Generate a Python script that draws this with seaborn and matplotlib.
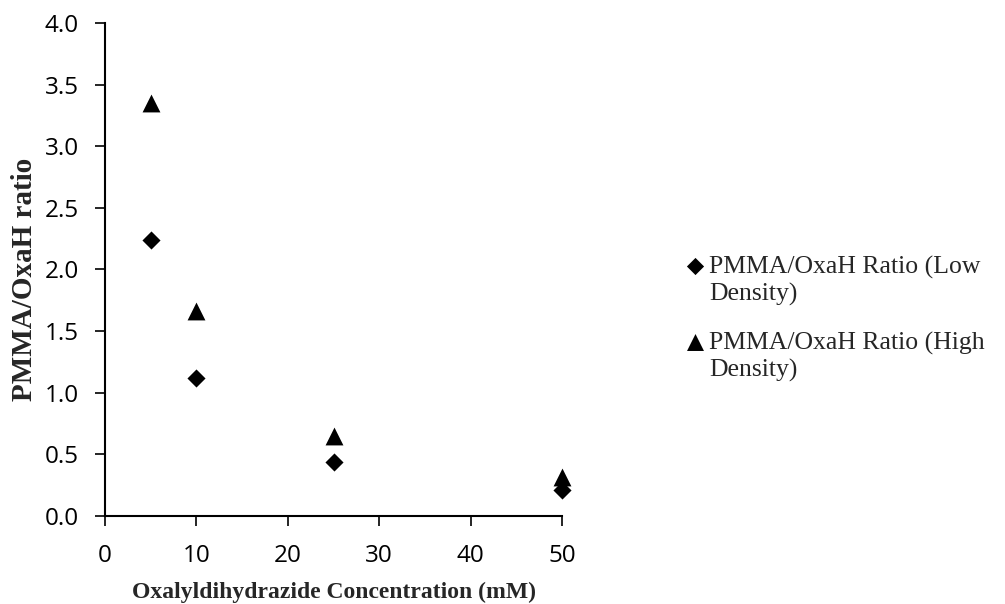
import matplotlib
matplotlib.use("Agg")
import matplotlib.pyplot as plt
from matplotlib.legend_handler import HandlerPathCollection
import seaborn as sns
import pandas as pd

# Oxalyldihydrazide concentration (mM) and measured PMMA/OxaH ratios
concentration = [5, 10, 25, 50]
ratio_low = [2.24, 1.12, 0.44, 0.21]
ratio_high = [3.35, 1.66, 0.65, 0.32]
series_names = ["PMMA/OxaH Ratio (Low\nDensity)", "PMMA/OxaH Ratio (High\nDensity)"]
x_ticks = [0, 10, 20, 30, 40, 50]
y_ticks = [0.0, 0.5, 1.0, 1.5, 2.0, 2.5, 3.0, 3.5, 4.0]

low_df = pd.DataFrame({"conc": concentration, "ratio": ratio_low})
high_df = pd.DataFrame({"conc": concentration, "ratio": ratio_high})

sns.set_theme(style="white")
plt.rcParams["font.family"] = ["Open Sans", "DejaVu Sans"]

fig = plt.figure(figsize=(10.05, 6.04), dpi=100)
ax = fig.add_axes([0.1045, 0.1457, 0.4547, 0.8163])

sns.scatterplot(data=low_df, x="conc", y="ratio", marker="D", s=85,
                color="black", linewidth=0, ax=ax, label=series_names[0],
                clip_on=False, zorder=3)
sns.scatterplot(data=high_df, x="conc", y="ratio", marker="^", s=165,
                color="black", linewidth=0, ax=ax, label=series_names[1],
                clip_on=False, zorder=3)

ax.set_xlim(0, 50)
ax.set_ylim(0, 4.0)
ax.set_xticks(x_ticks)
ax.set_yticks(y_ticks)
ax.set_yticklabels([f"{v:.1f}" for v in y_ticks])
ax.tick_params(axis="both", which="major", labelsize=17.5, direction="out",
               length=7, width=1.2, color="black", labelcolor="black",
               bottom=True, left=True)
ax.tick_params(axis="x", pad=13)
ax.tick_params(axis="y", pad=12)

for side in ["top", "right"]:
    ax.spines[side].set_visible(False)
for side in ["left", "bottom"]:
    ax.spines[side].set_color("black")
    ax.spines[side].set_linewidth(1.5)

ax.set_xlabel("Oxalyldihydrazide Concentration (mM)",
              fontdict={"family": "Liberation Serif", "weight": "bold", "size": 17})
ax.set_ylabel("PMMA/OxaH ratio",
              fontdict={"family": "Liberation Serif", "weight": "bold", "size": 21})
ax.xaxis.set_label_coords(0.5, -0.134)
ax.yaxis.set_label_coords(-0.146, 0.479)

# legend markers sit beside the first line of each wrapped label
handles, labels = ax.get_legend_handles_labels()
first_line = HandlerPathCollection(yoffsets=[1.3])
ax.legend(handles, labels, loc="center left", bbox_to_anchor=(1.269, 0.40),
          frameon=False, prop={"family": "Liberation Serif", "size": 18.5},
          handlelength=0.8, handletextpad=0.15, labelspacing=1.02,
          borderpad=0, borderaxespad=0, markerscale=0.95,
          handler_map={h: first_line for h in handles})

fig.savefig("out.png", dpi=100)
